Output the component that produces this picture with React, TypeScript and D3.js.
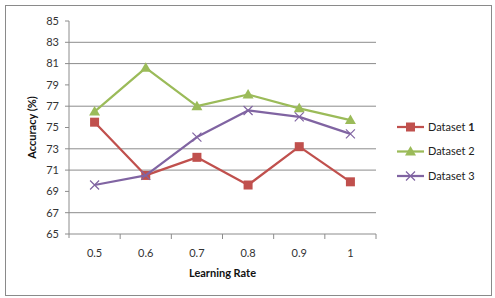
import React from "react";
import * as d3 from "d3";

const rates = ["0.5", "0.6", "0.7", "0.8", "0.9", "1"];
const dataset1 = [75.5, 70.5, 72.2, 69.6, 73.2, 69.9];
const dataset2 = [76.5, 80.6, 77.0, 78.1, 76.8, 75.7];
const dataset3 = [69.6, 70.5, 74.1, 76.6, 76.0, 74.4];
const yTicks = [65, 67, 69, 71, 73, 75, 77, 79, 81, 83, 85];
const gridTicks = [67, 71, 73, 77, 81, 83];

const series = [
  { name: "Dataset ", num: "1", bold: true, values: dataset1, color: "#C0504D", marker: "square" },
  { name: "Dataset ", num: "2", bold: false, values: dataset2, color: "#9BBB59", marker: "triangle" },
  { name: "Dataset ", num: "3", bold: false, values: dataset3, color: "#8064A2", marker: "cross" },
];

const font = "Lato, 'Open Sans', sans-serif";

function Marker({ type, x, y, color }: { type: string; x: number; y: number; color: string }) {
  if (type === "square") {
    return <rect x={x - 4.5} y={y - 4.5} width={9} height={9} fill={color} />;
  }
  if (type === "triangle") {
    return <path d={`M${x},${y - 5.5}L${x + 5.5},${y + 4}L${x - 5.5},${y + 4}Z`} fill={color} />;
  }
  return (
    <path
      d={`M${x - 4.5},${y - 4.5}L${x + 4.5},${y + 4.5}M${x - 4.5},${y + 4.5}L${x + 4.5},${y - 4.5}`}
      stroke={color}
      strokeWidth={1.2}
      fill="none"
    />
  );
}

export default function App() {
  const width = 495;
  const height = 298;
  const plot = { left: 69, right: 376, top: 21, bottom: 234 };

  const x = d3.scaleBand<string>().domain(rates).range([plot.left, plot.right]);
  const cx = (d: string) => (x(d) ?? 0) + x.bandwidth() / 2;
  const y = d3.scaleLinear().domain([65, 85]).range([plot.bottom, plot.top]);

  const line = d3
    .line<number>()
    .x((_, i) => cx(rates[i]))
    .y((v) => y(v));

  return (
    <svg
      width={width}
      height={height}
      style={{ position: "absolute", left: 0, top: 0, background: "#fff" }}
      fontFamily={font}
    >
      <rect x={5.5} y={5.5} width={486} height={290} fill="#fff" stroke="#8a8a8a" />

      {/* gridlines */}
      {gridTicks.map((t) => (
        <line key={t} x1={plot.left} x2={plot.right} y1={y(t)} y2={y(t)} stroke="#8c8c8c" strokeWidth={1} />
      ))}

      {/* y axis */}
      <line x1={plot.left} x2={plot.left} y1={plot.top} y2={plot.bottom + 4} stroke="#8c8c8c" />
      {yTicks.map((t) => (
        <g key={t}>
          <line x1={plot.left - 4} x2={plot.left} y1={y(t)} y2={y(t)} stroke="#8c8c8c" />
          <text x={59} y={y(t)} dy="0.35em" textAnchor="end" fontSize={11} fill="#333">
            {t}
          </text>
        </g>
      ))}

      {/* x axis */}
      <line x1={plot.left} x2={plot.right} y1={plot.bottom} y2={plot.bottom} stroke="#8c8c8c" />
      {rates.map((r) => (
        <line key={"t" + r} x1={(x(r) ?? 0) + x.bandwidth()} x2={(x(r) ?? 0) + x.bandwidth()} y1={plot.bottom} y2={plot.bottom + 5} stroke="#8c8c8c" />
      ))}
      {rates.map((r) => (
        <text key={r} x={cx(r)} y={257} textAnchor="middle" fontSize={11} fill="#333">
          {r}
        </text>
      ))}

      <text x={(plot.left + plot.right) / 2} y={277} textAnchor="middle" fontSize={11} fontWeight="bold" fill="#111">
        Learning Rate
      </text>
      <text
        transform={`translate(36, ${(plot.top + plot.bottom) / 2}) rotate(-90)`}
        textAnchor="middle"
        fontSize={11}
        fontWeight="bold"
        fill="#111"
      >
        Accuracy (%)
      </text>

      {/* series */}
      {series.map((s) => (
        <g key={s.num}>
          <path d={line(s.values) ?? ""} fill="none" stroke={s.color} strokeWidth={2.25} strokeLinejoin="round" />
          {s.values.map((v, i) => (
            <Marker key={i} type={s.marker} x={cx(rates[i])} y={y(v)} color={s.color} />
          ))}
        </g>
      ))}

      {/* legend */}
      {series.map((s, i) => {
        const ly = 127 + i * 24.5;
        return (
          <g key={"l" + s.num}>
            <line x1={397} x2={424} y1={ly} y2={ly} stroke={s.color} strokeWidth={2.25} />
            <Marker type={s.marker} x={410.5} y={ly} color={s.color} />
            <text x={428} y={ly} dy="0.35em" fontSize={11} fill="#222">
              {s.name}
              <tspan fontWeight={s.bold ? "bold" : "normal"}>{s.num}</tspan>
            </text>
          </g>
        );
      })}
    </svg>
  );
}
